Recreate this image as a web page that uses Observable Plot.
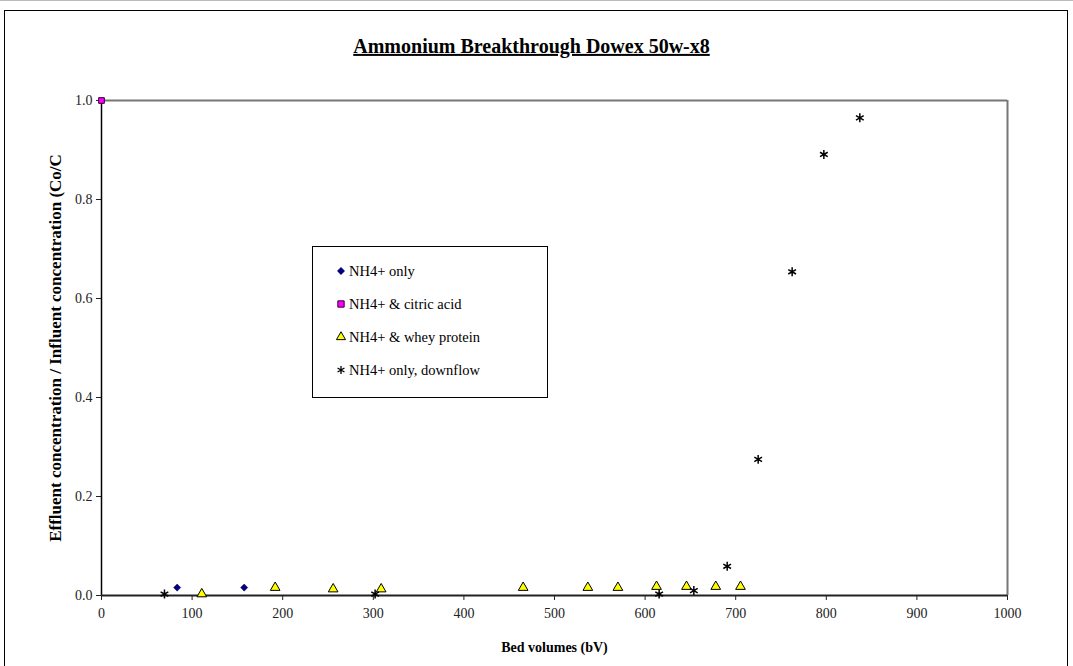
<!DOCTYPE html>
<html>
<head>
<meta charset="utf-8">
<script src="https://cdn.jsdelivr.net/npm/d3@7"></script>
<script src="https://cdn.jsdelivr.net/npm/@observablehq/plot@0.6"></script>
<style>
  html, body { margin: 0; padding: 0; background: #fff; overflow: hidden; }
  #wrap { position: relative; width: 1073px; height: 666px; }
  #frame { position: absolute; left: 4px; top: 10px; width: 1064px; height: 700px; border: 1.5px solid #000; box-sizing: border-box; pointer-events: none; }
  #topline { position: absolute; left: 0; top: 0; width: 1073px; height: 1px; background: #bbb; }
  #legend { position: absolute; left: 312px; top: 246px; width: 236px; height: 152px; border: 1px solid #000; box-sizing: border-box; background: #fff;
            font-family: 'Liberation Serif', 'Times New Roman', serif; font-size: 14.5px; color: #000; }
  .row { position: absolute; left: 23px; height: 20px; display: flex; align-items: center; white-space: nowrap; }
  .row svg { margin-right: 3px; }
</style>
</head>
<body>
<div id="wrap">
  <div id="topline"></div>
  <div id="chart"></div>
  <div id="frame"></div>
  <div id="legend"></div>
</div>
<script>
// ---- data ----
const title = "Ammonium Breakthrough Dowex 50w-x8";
const xLabel = "Bed volumes (bV)";
const yLabel = "Effluent concentration / Influent concentration (Co/C";
const seriesNames = ["NH4+ only", "NH4+ & citric acid", "NH4+ & whey protein", "NH4+ only, downflow"];

const onlyX = [83.5, 157.5];
const onlyY = [0.016, 0.016];

const citricX = [0];
const citricY = [1.0];

const wheyX = [110.7, 191.7, 255.7, 308.7, 465.4, 536.8, 570, 612.6, 645.7, 678, 705.3];
const wheyY = [0.003, 0.016, 0.013, 0.013, 0.016, 0.016, 0.016, 0.018, 0.018, 0.018, 0.018];

const downX = [69.5, 302, 615.5, 653.8, 690.6, 724.8, 762.3, 797.3, 837];
const downY = [0.003, 0.003, 0.003, 0.010, 0.059, 0.275, 0.654, 0.891, 0.965];

const xTicks = [0, 100, 200, 300, 400, 500, 600, 700, 800, 900, 1000];
const yTicks = [0, 0.2, 0.4, 0.6, 0.8, 1.0];

const pts = (xs, ys) => xs.map((x, i) => ({x, y: ys[i]}));

const font = "'Liberation Serif', 'Times New Roman', serif";

const chart = Plot.plot({
  width: 1073,
  height: 666,
  marginLeft: 101,
  marginRight: 66,
  marginTop: 100,
  marginBottom: 71,
  style: {fontFamily: font, fontSize: "14px", background: "transparent", color: "#000"},
  x: {domain: [0, 1000]},
  y: {domain: [0, 1]},
  marks: [
    Plot.ruleX([1000], {stroke: "#777", strokeWidth: 2}),
    Plot.ruleY([1], {stroke: "#777", strokeWidth: 2}),
    Plot.axisX({ticks: xTicks, tickSize: 5, tickPadding: 8, tickFormat: d => String(d), label: null, fontSize: 14, color: "#222"}),
    Plot.axisY({ticks: yTicks, tickSize: 5, tickPadding: 4, tickFormat: d3.format(".1f"), label: null, fontSize: 14, color: "#222"}),
    Plot.ruleX([0], {stroke: "#000", strokeWidth: 1.5}),
    Plot.ruleY([0], {stroke: "#222", strokeWidth: 2}),
    Plot.dot(pts(wheyX, wheyY), {x: "x", y: "y", symbol: "triangle", r: 3.6, fill: "#ffff00", stroke: "#000", strokeWidth: 1}),
    Plot.dot(pts(onlyX, onlyY), {x: "x", y: "y", symbol: "diamond2", r: 3.2, fill: "#000080", stroke: "#000060", strokeWidth: 0.5}),
    Plot.dot(pts(citricX, citricY), {x: "x", y: "y", symbol: "square", r: 3.2, fill: "#ff00ff", stroke: "#300030", strokeWidth: 1}),
    Plot.dot(pts(downX, downY), {x: "x", y: "y", symbol: "asterisk", r: 4.2, stroke: "#000", strokeWidth: 1.5}),
    Plot.text([title], {frameAnchor: "top", lineAnchor: "middle", dx: -23, dy: -54, fontSize: 20, fontWeight: "bold", fill: "#000"}),
    Plot.text([xLabel], {frameAnchor: "bottom", lineAnchor: "middle", dy: 52, fontSize: 14, fontWeight: "bold", fill: "#000"}),
    Plot.text([yLabel], {frameAnchor: "left", textAnchor: "middle", lineAnchor: "middle", dx: -46, rotate: -90, fontSize: 17, fontWeight: "bold", fill: "#000"})
  ]
});
document.getElementById("chart").appendChild(chart);
d3.select(chart).selectAll("text").filter(function() { return this.textContent === title; })
  .style("text-decoration", "underline");

// ---- legend ----
const legendSpec = [
  {name: seriesNames[0], type: d3.symbolDiamond2, size: 34, fill: "#000080", stroke: "#000060", sw: 0.5},
  {name: seriesNames[1], type: d3.symbolSquare, size: 40, fill: "#ff00ff", stroke: "#300030", sw: 1},
  {name: seriesNames[2], type: d3.symbolTriangle, size: 36, fill: "#ffff00", stroke: "#000", sw: 1},
  {name: seriesNames[3], type: d3.symbolAsterisk, size: 44, fill: "none", stroke: "#000", sw: 1.3}
];
const leg = document.getElementById("legend");
legendSpec.forEach((s, i) => {
  const row = document.createElement("div");
  row.className = "row";
  row.style.top = (14 + i * 33) + "px";
  const path = d3.symbol(s.type, s.size)();
  row.innerHTML = `<svg width="10" height="12" viewBox="-5 -6 10 12"><path d="${path}" fill="${s.fill}" stroke="${s.stroke}" stroke-width="${s.sw}"/></svg><span>${s.name}</span>`;
  leg.appendChild(row);
});
</script>
</body>
</html>
